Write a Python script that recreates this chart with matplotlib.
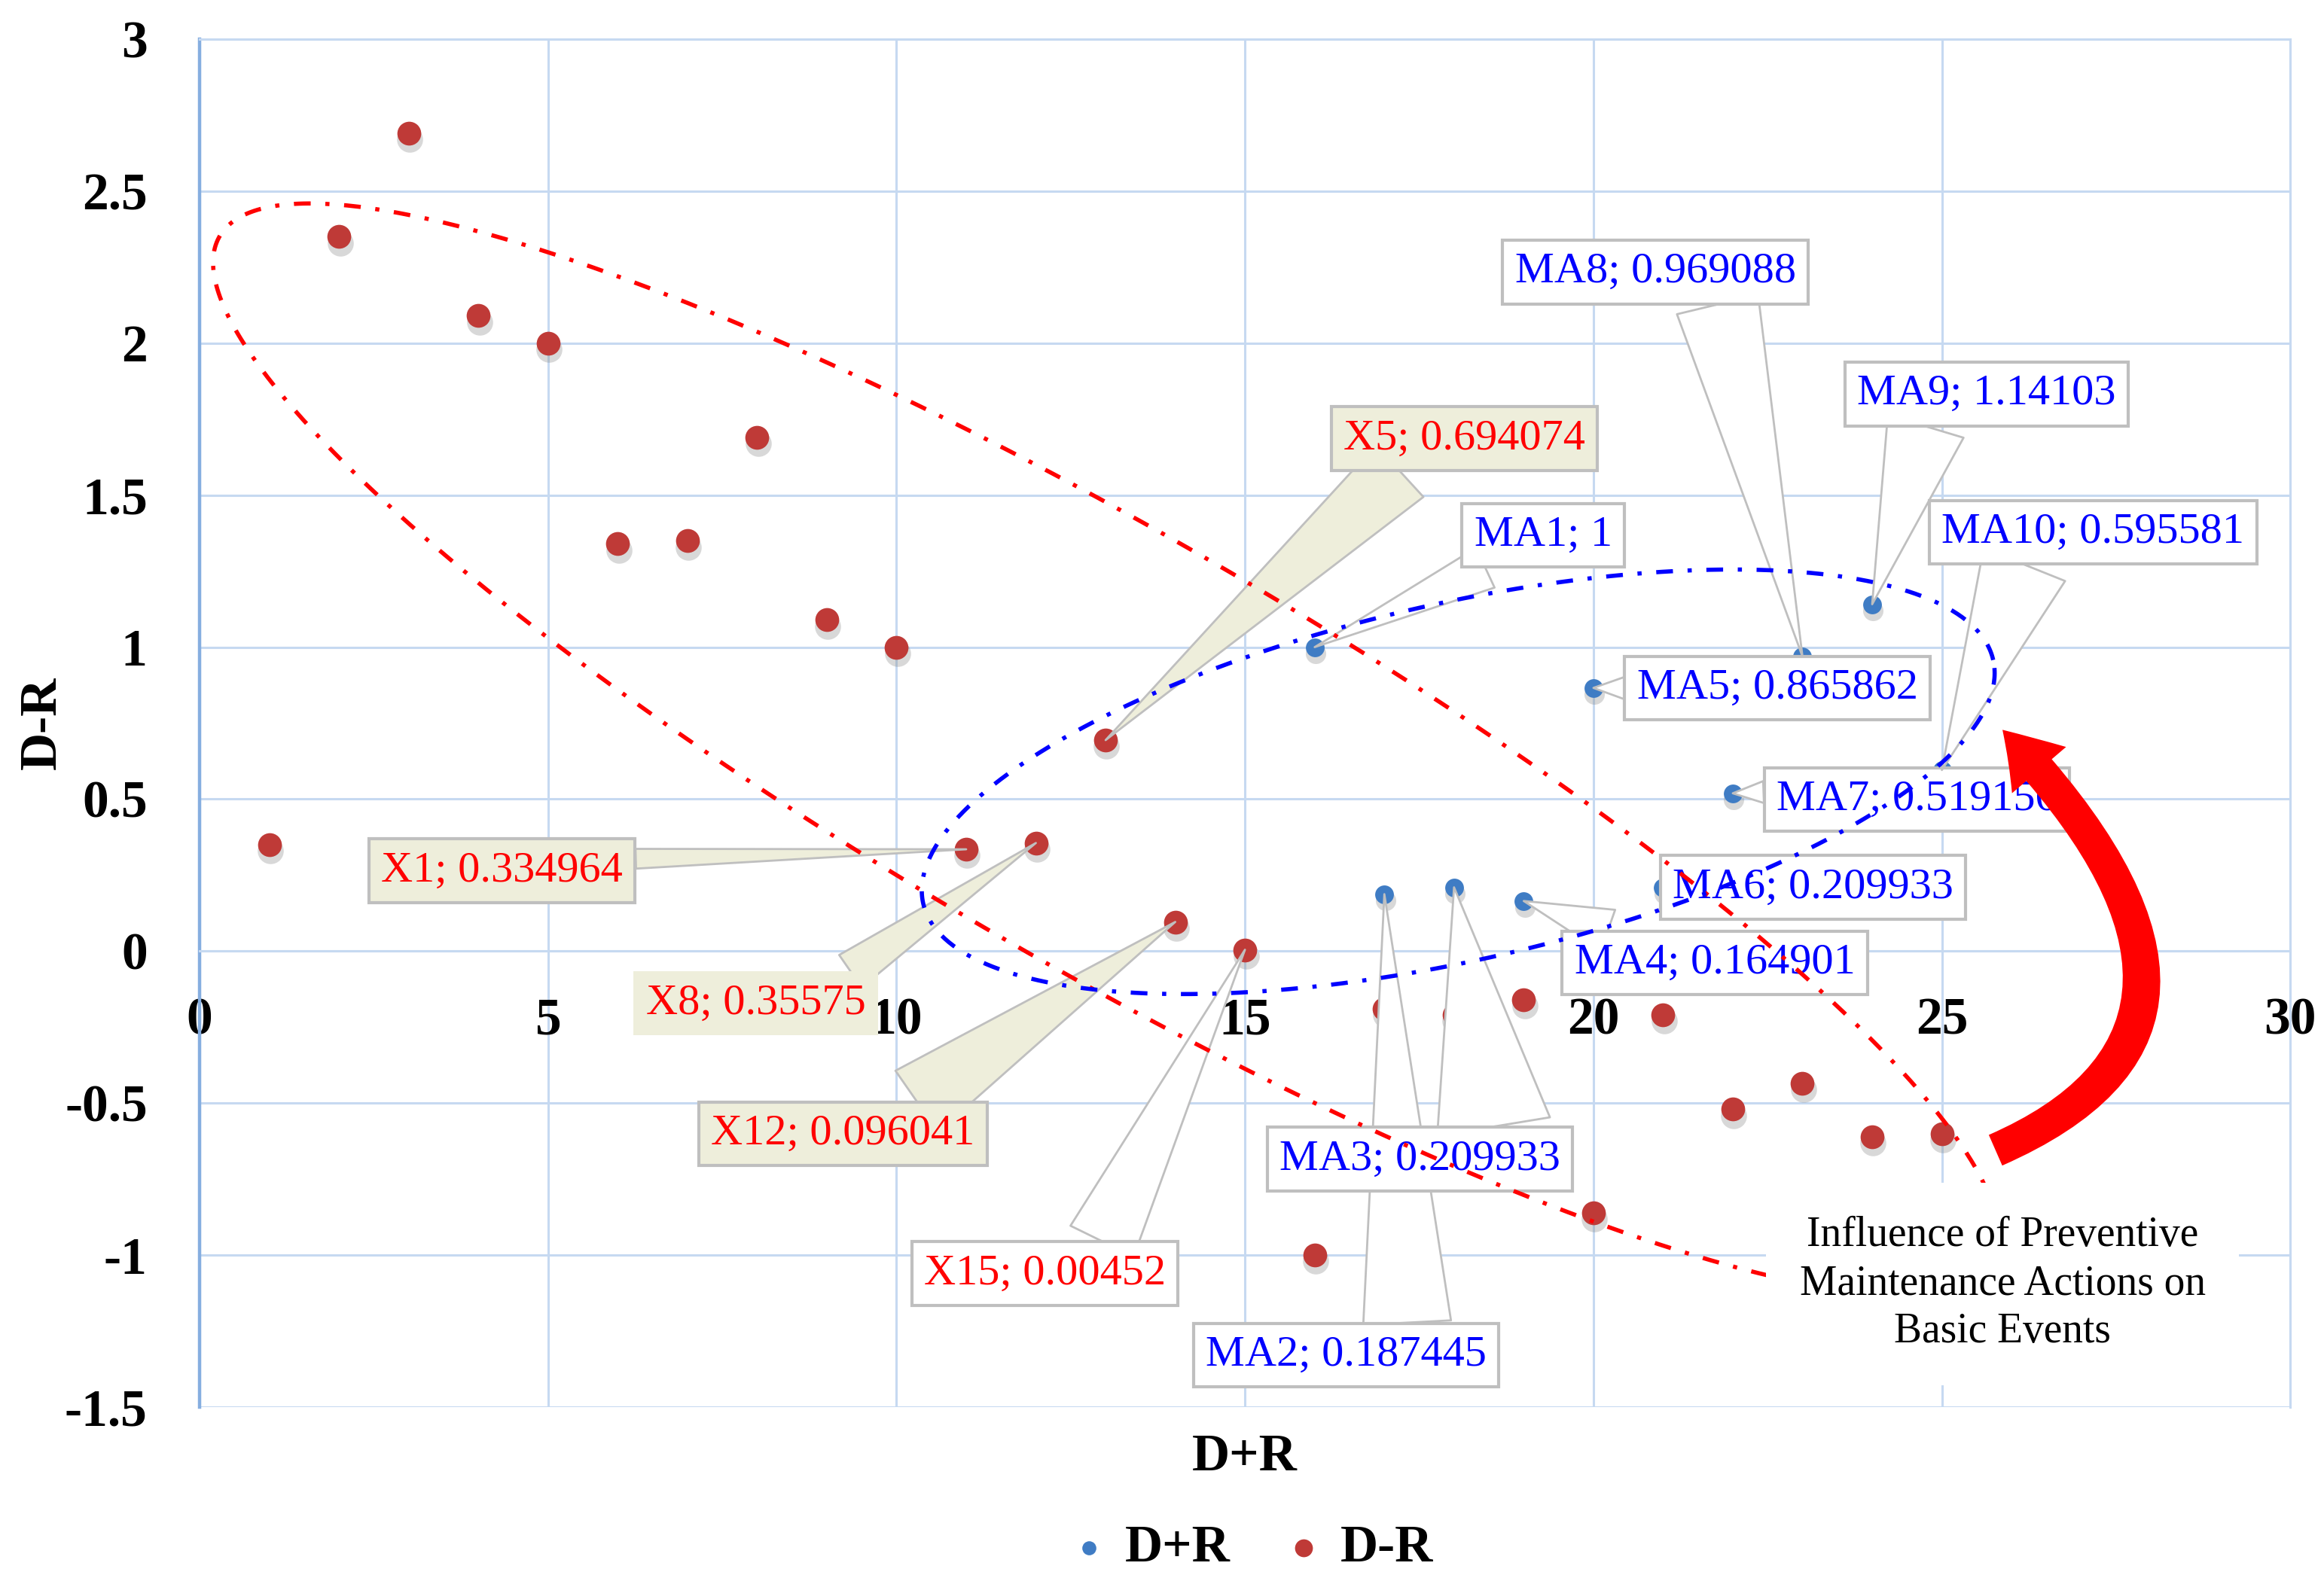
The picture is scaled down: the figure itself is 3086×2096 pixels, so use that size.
import matplotlib.pyplot as plt
import matplotlib.transforms as mtransforms
from matplotlib.patches import FancyArrowPatch
from matplotlib.path import Path
from matplotlib.ticker import FuncFormatter
import numpy as np

plt.rcParams['font.family'] = ['Liberation Serif', 'DejaVu Serif']
plt.rcParams['axes.unicode_minus'] = False

# D+R series (blue): maintenance actions
ma_names = ['MA1', 'MA2', 'MA3', 'MA4', 'MA5', 'MA6', 'MA7', 'MA8', 'MA9', 'MA10']
ma_x = [16, 17, 18, 19, 20, 21, 22, 23, 24, 25]
ma_y = [1, 0.187445, 0.209933, 0.164901, 0.865862, 0.209933, 0.519156,
        0.969088, 1.14103, 0.595581]

# D-R series (red): basic events
be_x = [1, 2, 3, 4, 5, 6, 7, 8, 9, 10, 11, 12, 13, 14, 15, 16, 17, 18, 19, 20,
        21, 22, 23, 24, 25]
be_y = [0.35, 2.35, 2.69, 2.09, 2.0, 1.34, 1.35, 1.69, 1.09, 1.0,
        0.334964, 0.35575, 0.694074, 0.096041, 0.00452, -1.0, -0.19, -0.21,
        -0.16, -0.86, -0.21, -0.52, -0.435, -0.61, -0.60]

# labelled basic events (index into be_x / be_y)
be_label_names = ['X1', 'X8', 'X5', 'X12', 'X15']
be_label_idx = [10, 11, 12, 13, 14]

x_ticks = [0, 5, 10, 15, 20, 25, 30]
y_ticks = [-1.5, -1, -0.5, 0, 0.5, 1, 1.5, 2, 2.5, 3]

# label placement: text pos (data), relpos on box, wedge width (, face, edge)
ma_layout = {
    'MA1': ((19.28, 1.368), (0.28, 0), 1.0),
    'MA2': ((16.45, -1.329), (0.72, 1), 2.0),
    'MA3': ((17.51, -0.684), (0.77, 1), 2.6),
    'MA4': ((21.74, -0.039), (0.25, 1), 1.0),
    'MA5': ((22.64, 0.865), (0, 0.5), 0.5),
    'MA6': ((23.15, 0.210), (0, 0.5), 0.5),
    'MA7': ((24.64, 0.499), (0, 0.7), 0.5),
    'MA8': ((20.89, 2.234), (0.71, 0), 1.9),
    'MA9': ((25.64, 1.833), (0.28, 0), 1.8),
    'MA10': ((27.17, 1.378), (0.29, 0), 2.0),
}
be_layout = {
    'X1': ((4.34, 0.264), (1, 0.8), 0.45, '#EEEEDB', '#BFBFBF'),
    'X8': ((7.98, -0.171), (0.85, 1), 0.9, '#EEEEDB', 'none'),
    'X5': ((18.15, 1.686), (0.29, 0), 1.6, '#EEEEDB', '#BFBFBF'),
    'X12': ((9.23, -0.601), (0.71, 1), 1.7, '#EEEEDB', '#BFBFBF'),
    'X15': ((12.13, -1.061), (0.71, 1), 1.6, 'white', '#BFBFBF'),
}

GRID = '#C6D9F1'
RED_PT = '#BF3A37'
BLUE_PT = '#3F7CC4'

fig = plt.figure(figsize=(15.43, 10.48), dpi=200)
ax = fig.add_axes([0.0859, 0.1083, 0.8996, 0.8669])
ax.set_xlim(0, 30)
ax.set_ylim(-1.5, 3)
ax.set_xticks(x_ticks)
ax.set_yticks(y_ticks)
fmt = FuncFormatter(lambda v, p: f"{v:g}")
ax.xaxis.set_major_formatter(fmt)
ax.yaxis.set_major_formatter(fmt)
ax.grid(True, color=GRID, lw=1.1)
ax.set_axisbelow(True)

ax.spines['left'].set_color('#86AEE0')
ax.spines['left'].set_linewidth(1.6)
for s in ['top', 'right', 'bottom']:
    ax.spines[s].set_color(GRID)
    ax.spines[s].set_linewidth(1.1)
ax.spines['bottom'].set_position(('data', 0))
ax.tick_params(axis='both', length=0, labelsize=25)
ax.tick_params(axis='x', pad=22)
ax.tick_params(axis='y', pad=25)
for lbl in ax.get_xticklabels() + ax.get_yticklabels():
    lbl.set_fontweight('bold')

ax.set_xlabel('D+R', fontsize=25, fontweight='bold', va='top')
ax.xaxis.set_label_coords(0.5, -0.019)
ax.set_ylabel('D-R', fontsize=25, fontweight='bold', va='center')
ax.yaxis.set_label_coords(-0.075, 0.5)

# points with a soft shadow
shadow = mtransforms.offset_copy(ax.transData, fig=fig, x=0.5, y=-3, units='points')
ax.scatter(ma_x, ma_y, s=95, color='#808080', alpha=0.3, lw=0, transform=shadow, zorder=2)
ax.scatter(be_x, be_y, s=155, color='#808080', alpha=0.3, lw=0, transform=shadow, zorder=2)
h_ma = ax.scatter(ma_x, ma_y, s=80, color=BLUE_PT, lw=0, zorder=3, label='D+R')
h_be = ax.scatter(be_x, be_y, s=130, color=RED_PT, lw=0, zorder=3, label='D-R')

# data labels
for name, xv, yv in zip(ma_names, ma_x, ma_y):
    pos, rel, tw = ma_layout[name]
    ax.annotate(f"{name}; {yv:g}", xy=(xv, yv), xytext=pos, ha='center', va='center',
                fontsize=21, color='#0000FF', zorder=5,
                bbox=dict(boxstyle='square,pad=0.28', fc='white', ec='#BFBFBF', lw=1.5),
                arrowprops=dict(arrowstyle=f'wedge,tail_width={tw}', fc='white',
                                ec='#BFBFBF', lw=1.0, relpos=rel, shrinkA=0, shrinkB=0))

for name, i in zip(be_label_names, be_label_idx):
    pos, rel, tw, fc, ec = be_layout[name]
    ax.annotate(f"{name}; {be_y[i]:g}", xy=(be_x[i], be_y[i]), xytext=pos,
                ha='center', va='center', fontsize=21, color='#FF0000', zorder=5,
                bbox=dict(boxstyle='square,pad=0.28', fc=fc, ec=ec, lw=1.5),
                arrowprops=dict(arrowstyle=f'wedge,tail_width={tw}', fc=fc,
                                ec='#BFBFBF', lw=1.0, relpos=rel, shrinkA=0, shrinkB=0))


# group outlines (ellipses sized in the reference's screen pixels)
PX_X, PX_Y = 47.0, 204.6


def ellipse_xy(cx, cy, a, b, ang):
    t = np.linspace(0, 2 * np.pi, 500)
    th = np.radians(ang)
    px = a * np.cos(t) * np.cos(th) - b * np.sin(t) * np.sin(th)
    py = a * np.cos(t) * np.sin(th) + b * np.sin(t) * np.cos(th)
    return cx + px / PX_X, cy + py / PX_Y


dashdot = (0, (4, 3.5, 1, 3.5))
ex, ey = ellipse_xy(13.0, 0.665, 690, 145, -30)
ax.plot(ex, ey, color='#FF0000', lw=2.0, ls=dashdot, zorder=6, clip_on=False)
ex, ey = ellipse_xy(18.06, 0.557, 370, 120, 12.8)
ax.plot(ex, ey, color='#0000FF', lw=2.0, ls=dashdot, zorder=6, clip_on=False)

ax.text(25.87, -1.095, 'Influence of Preventive\nMaintenance Actions on\nBasic Events',
        ha='center', va='center', fontsize=20, linespacing=1.3, zorder=7,
        bbox=dict(boxstyle='square,pad=0.8', fc='white', ec='none'))

# curved arrow pointing back at the maintenance actions
arc = Path([(25.77, -0.655), (29.91, -0.239), (25.87, 0.728)],
           [Path.MOVETO, Path.CURVE3, Path.CURVE3])
arrow = FancyArrowPatch(path=arc,
                        arrowstyle='simple,head_length=2.6,head_width=3.4,tail_width=1.6',
                        mutation_scale=10, color='#FF0000', lw=0, zorder=8)
ax.add_patch(arrow)

fig.legend(handles=[h_ma, h_be], loc='center', bbox_to_anchor=(0.537, 0.0186), ncol=2,
           frameon=False, prop={'size': 25, 'weight': 'bold'}, markerscale=0.75,
           handletextpad=0.2, columnspacing=0.9, handlelength=1.0)

fig.savefig('out.png', dpi=200)
